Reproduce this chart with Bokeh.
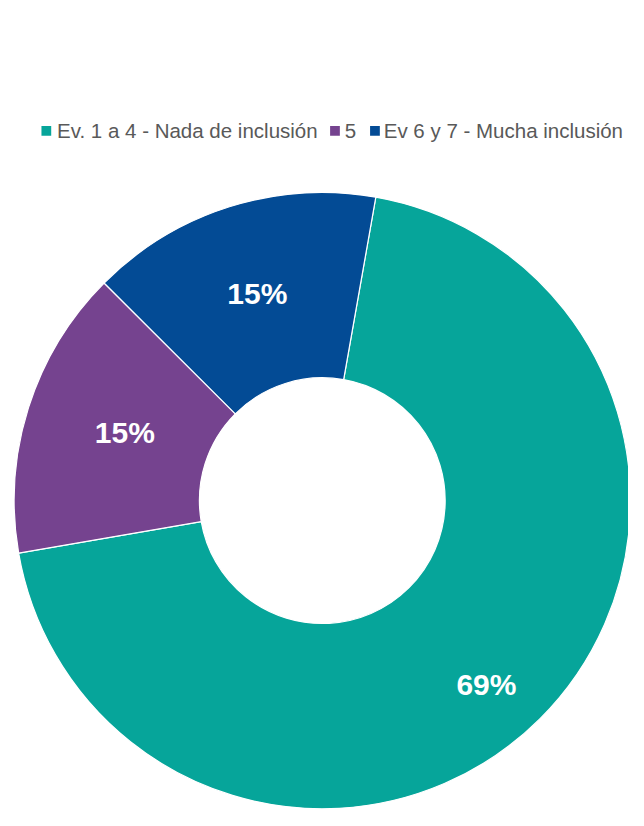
import math
from bokeh.plotting import figure
from bokeh.models import Range1d, ColumnDataSource
from bokeh.core.properties import value
from bokeh.embed import file_html
from bokeh.resources import INLINE

categories = ["Ev. 1 a 4 - Nada de inclusión", "5", "Ev  6 y 7 - Mucha inclusión"]
values = [69.5, 15.2, 15.3]
labels = ["69%", "15%", "15%"]
colors = ["#06A59A", "#75438F", "#034B95"]

W, H = 628, 810
p = figure(width=W, height=H, output_backend="svg", toolbar_location=None,
           x_range=Range1d(0, 644), y_range=Range1d(-826, 0),
           min_border=0, outline_line_color=None)
p.axis.visible = False
p.grid.visible = False
p.background_fill_color = "white"
p.border_fill_color = "white"

cx, cy = 330, -510
r_out, r_in = 316, 126
first = 10.0  # degrees clockwise from 12 o'clock
label_r = [252, 214, 221]
label_shift = [3.0, 1.3, 0.0]
total = sum(values)
starts, ends, lx, ly = [], [], [], []
acc = first
for v, rr, sh in zip(values, label_r, label_shift):
    a0 = acc
    a1 = acc + v / total * 360
    starts.append(math.radians(90 - a0))
    ends.append(math.radians(90 - a1))
    mid = math.radians(90 - ((a0 + a1) / 2 + sh))
    lx.append(cx + rr * math.cos(mid))
    ly.append(cy + rr * math.sin(mid))
    acc = a1

src = ColumnDataSource(dict(s=starts, e=ends, c=colors, lx=lx, ly=ly, t=labels))
p.annular_wedge(x=cx, y=cy, inner_radius=r_in, outer_radius=r_out,
                start_angle="s", end_angle="e", direction="clock",
                fill_color="c", line_color="white", line_width=1.2, source=src)
p.text(x="lx", y="ly", text="t", source=src, text_color="white",
       text_font=value("Liberation Sans"), text_font_style="bold",
       text_font_size="30px", text_align="center", text_baseline="middle")

# legend
lg_sq_x = [47, 343, 384]
lg_tx = [58, 353, 393]
lg_y = -133
p.rect(x=lg_sq_x, y=[lg_y] * 3, width=10, height=10, fill_color=colors, line_color=None)
p.text(x=lg_tx, y=[lg_y] * 3, text=categories, text_color="#595959",
       text_font=value("Liberation Sans"), text_font_size="20.5px",
       text_align="left", text_baseline="middle")

open("out.html", "w").write(file_html(p, INLINE))
